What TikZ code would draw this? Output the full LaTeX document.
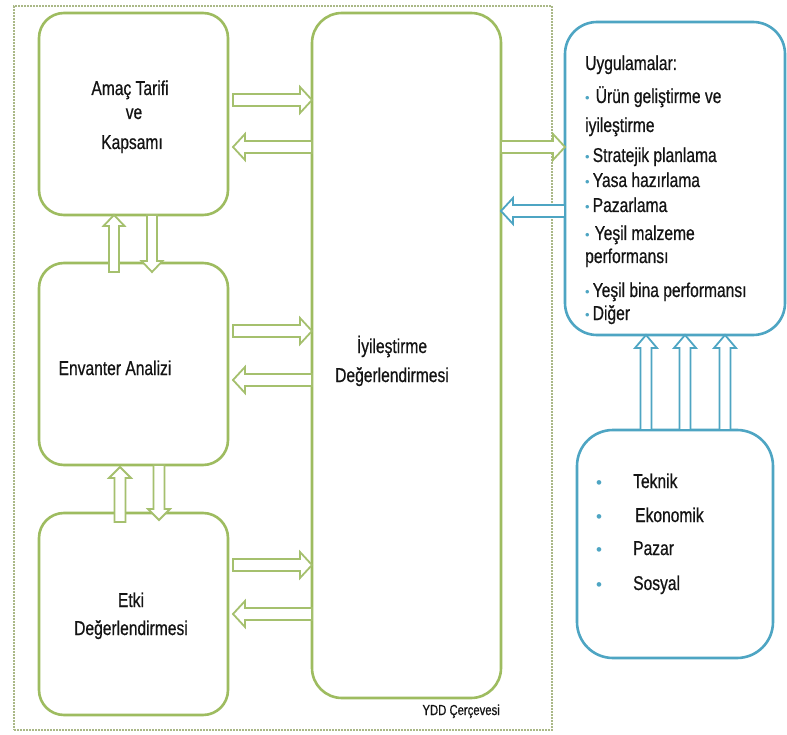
\documentclass[tikz,border=0pt]{standalone}
\usepackage{fontspec}
\setmainfont{Liberation Sans}[FakeStretch=0.78,FakeBold=0.6]
\newfontfamily\bulfont{Liberation Sans}
\usetikzlibrary{calc}
\definecolor{gr}{RGB}{158,188,96}
\definecolor{grl}{RGB}{165,192,110}
\definecolor{bl}{RGB}{78,165,195}
\definecolor{txt}{RGB}{20,20,20}
\definecolor{dotc}{RGB}{170,184,135}
\newcommand\fatarrow[6]{%
  \coordinate (fanck) at ($(#3)!#6!(#2)$);
  \draw[#1] ($(#2)!#4!90:(#3)$) -- ($(fanck)!#4!90:(#3)$) -- ($(fanck)!#5!90:(#3)$)
    -- (#3) -- ($(fanck)!#5!-90:(#3)$) -- ($(fanck)!#4!-90:(#3)$) -- ($(#2)!#4!-90:(#3)$) -- cycle;
}
\newcommand\bul{{\color{bl}\bulfont\fontsize{13}{13}\selectfont\raisebox{0.5pt}{•}}}
\newcommand\bulb{{\color{bl}\bulfont\fontsize{17}{17}\selectfont •}}
\tikzset{
  gbox/.style={draw=gr, line width=2.6pt, rounded corners=25pt, fill=white, inner sep=0pt, outer sep=0pt},
  bbox/.style={draw=bl, line width=2.6pt, rounded corners=32pt, fill=white, inner sep=0pt, outer sep=0pt},
  garr/.style={draw=grl, line width=1.8pt, fill=white, line join=miter},
  barr/.style={draw=bl, line width=1.8pt, fill=white, line join=miter},
  tx/.style={text=txt, font=\fontsize{20}{24}\selectfont, inner sep=0pt},
  frame/.style={draw=dotc, line width=2.2pt, dash pattern=on 1.6pt off 1.4pt}
}
\begin{document}
\begin{tikzpicture}[x=1pt,y=1pt]
\useasboundingbox (0,0) rectangle (787,-735);
\fill[white] (0,0) rectangle (787,-735);
% frame
\node[frame, minimum width=538pt, minimum height=724pt, inner sep=0pt, outer sep=0pt] (frm) at (283,-368) {};
% boxes
\node[gbox, minimum width=189pt, minimum height=202pt] (amac) at (133.5,-114) {};
\node[gbox, minimum width=189pt, minimum height=202pt] (env) at (133.5,-364) {};
\node[gbox, minimum width=189pt, minimum height=202pt] (etki) at (133.5,-614) {};
\node[gbox, rounded corners=30pt, minimum width=189pt, minimum height=685pt] (iyi) at (406.5,-355.5) {};
\node[bbox, minimum width=220pt, minimum height=313pt] (uyg) at (675,-178.5) {};
\node[bbox, rounded corners=36pt, minimum width=196pt, minimum height=228pt] (fak) at (675,-544) {};
% arrow end points
\coordinate (r1t) at ($(amac.east |- 0,-100)+(5,0)$);
\coordinate (r1h) at (iyi.west |- 0,-100);
\coordinate (l1t) at (iyi.west |- 0,-147);
\coordinate (l1h) at ($(amac.east |- 0,-147)+(5,0)$);
\coordinate (r2t) at ($(env.east |- 0,-331)+(5,0)$);
\coordinate (r2h) at (iyi.west |- 0,-331);
\coordinate (l2t) at (iyi.west |- 0,-380);
\coordinate (l2h) at ($(env.east |- 0,-380)+(5,0)$);
\coordinate (r3t) at ($(etki.east |- 0,-565)+(5,0)$);
\coordinate (r3h) at (iyi.west |- 0,-565);
\coordinate (l3t) at (iyi.west |- 0,-614);
\coordinate (l3h) at ($(etki.east |- 0,-614)+(5,0)$);
\coordinate (u1t) at ($(env.north -| 114,0)+(0,-9)$);
\coordinate (u1h) at (amac.south -| 114,0);
\coordinate (d1t) at (amac.south -| 152,0);
\coordinate (d1h) at ($(env.north -| 152,0)+(0,-9)$);
\coordinate (u2t) at ($(etki.north -| 120,0)+(0,-9)$);
\coordinate (u2h) at ($(env.south -| 120,0)+(0,-2)$);
\coordinate (d2t) at (env.south -| 159,0);
\coordinate (d2h) at ($(etki.north -| 159,0)+(0,-7)$);
\coordinate (ru) at (iyi.east |- 0,-147);
\coordinate (rv) at (uyg.west |- 0,-147);
\coordinate (lu) at (uyg.west |- 0,-211);
\coordinate (lv) at (iyi.east |- 0,-211);
\coordinate (b1t) at (fak.north -| 646,0);
\coordinate (b1h) at (uyg.south -| 646,0);
\coordinate (b2t) at (fak.north -| 685,0);
\coordinate (b2h) at (uyg.south -| 685,0);
\coordinate (b3t) at (fak.north -| 725,0);
\coordinate (b3h) at (uyg.south -| 725,0);
% arrows
\fatarrow{garr}{r1t}{r1h}{6pt}{13pt}{12pt}
\fatarrow{garr}{l1t}{l1h}{6pt}{13pt}{12pt}
\fatarrow{garr}{r2t}{r2h}{6pt}{13pt}{12pt}
\fatarrow{garr}{l2t}{l2h}{6pt}{13pt}{12pt}
\fatarrow{garr}{r3t}{r3h}{6pt}{13pt}{12pt}
\fatarrow{garr}{l3t}{l3h}{6pt}{13pt}{12pt}
\fatarrow{garr}{u1t}{u1h}{5pt}{10.5pt}{11pt}
\fatarrow{garr}{d1t}{d1h}{5pt}{10.5pt}{11pt}
\fatarrow{garr}{u2t}{u2h}{5.5pt}{11pt}{11pt}
\fatarrow{garr}{d2t}{d2h}{5.5pt}{11pt}{11pt}
\fatarrow{garr}{ru}{rv}{6pt}{13pt}{12pt}
\fatarrow{barr}{lu}{lv}{6pt}{13pt}{12pt}
\fatarrow{barr}{b1t}{b1h}{5.5pt}{11pt}{13pt}
\fatarrow{barr}{b2t}{b2h}{5.5pt}{11pt}{13pt}
\fatarrow{barr}{b3t}{b3h}{5.5pt}{11pt}{13pt}
% texts
\node[tx, anchor=base] (ta1) at (130,-95) {Amaç Tarifi};
\node[tx, anchor=base] (ta2) at (134,-119) {ve};
\node[tx, anchor=base] (ta3) at (132,-149) {Kapsamı};
\node[tx, anchor=base] (te1) at (115,-375) {Envanter Analizi};
\node[tx, anchor=base] (tk1) at (131,-607) {Etki};
\node[tx, anchor=base] (tk2) at (131,-635) {Değerlendirmesi};
\node[tx, anchor=base] (ti1) at (392,-353) {İyileştirme};
\node[tx, anchor=base] (ti2) at (392,-382) {Değerlendirmesi};
\node[tx, anchor=base east, font=\fontsize{14.5}{16}\selectfont] (ydd) at (500,-715) {YDD Çerçevesi};
\node[tx, anchor=base west] (u0) at (585,-70) {Uygulamalar:};
\node[tx, anchor=base west] (u1) at (585,-103) {\bul\hspace{6pt}Ürün geliştirme ve};
\node[tx, anchor=base west] (u1b) at (585,-132) {iyileştirme};
\node[tx, anchor=base west] (u2) at (585,-162) {\bul\hspace{3pt}Stratejik planlama};
\node[tx, anchor=base west] (u3) at (585,-187) {\bul\hspace{3pt}Yasa hazırlama};
\node[tx, anchor=base west] (u4) at (585,-212) {\bul\hspace{3pt}Pazarlama};
\node[tx, anchor=base west] (u5) at (585,-240) {\bul\hspace{5pt}Yeşil malzeme};
\node[tx, anchor=base west] (u5b) at (585,-263) {performansı};
\node[tx, anchor=base west] (u6) at (585,-297) {\bul\hspace{3pt}Yeşil bina performansı};
\node[tx, anchor=base west] (u7) at (585,-320) {\bul\hspace{3pt}Diğer};
\node[inner sep=0pt, anchor=base] (fb1) at (599,-488) {\bulb};
\node[inner sep=0pt, anchor=base] (fb2) at (599,-522) {\bulb};
\node[inner sep=0pt, anchor=base] (fb3) at (599,-555) {\bulb};
\node[inner sep=0pt, anchor=base] (fb4) at (599,-590) {\bulb};
\node[tx, anchor=base west] (f1) at (633,-488) {Teknik};
\node[tx, anchor=base west] (f2) at (635,-522) {Ekonomik};
\node[tx, anchor=base west] (f3) at (633,-555) {Pazar};
\node[tx, anchor=base west] (f4) at (633,-590) {Sosyal};
\end{tikzpicture}
\end{document}
